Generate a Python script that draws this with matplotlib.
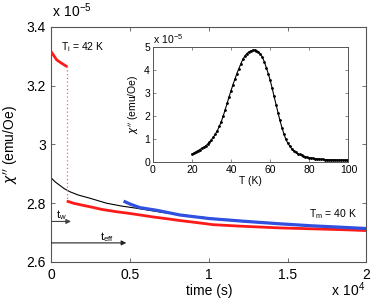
import matplotlib
matplotlib.use("Agg")
import matplotlib.pyplot as plt

plt.rcParams['font.family'] = ['Liberation Sans', 'DejaVu Sans']

# ---- main panel data (chi'' in units of 1e-5 emu/Oe, time in s) ----
red_init_t = [0, 115, 330, 600, 927]
red_init_chi = [3.314, 3.305, 3.288, 3.278, 3.267]

red_t = [1050, 1400, 1900, 2444, 3200, 4140, 5000, 5620, 6500, 7500, 8160, 8800,
         10270, 12000, 14500, 16500, 18500, 20000]
red_chi = [2.806, 2.800, 2.794, 2.788, 2.779, 2.771, 2.765, 2.760, 2.753, 2.746,
           2.741, 2.737, 2.727, 2.722, 2.716, 2.713, 2.710, 2.707]

black_t = [0, 250, 500, 800, 1175, 1700, 2444, 3500, 4500, 5400, 7000, 8800,
           12000, 16000, 20000]
black_chi = [2.885, 2.872, 2.862, 2.850, 2.839, 2.828, 2.817, 2.800, 2.790,
             2.783, 2.769, 2.757, 2.738, 2.724, 2.713]

blue_t = [4670, 5000, 5620, 6680, 8160, 10000, 12400, 14500, 16600, 18500, 20000]
blue_chi = [2.805, 2.797, 2.785, 2.776, 2.760, 2.748, 2.738, 2.730, 2.723, 2.718, 2.714]

tw_s = 990
teff_s = 4750

main_xticks = [0, 5000, 10000, 15000, 20000]
main_xticklabels = ['0', '0.5', '1', '1.5', '2']
main_yticks = [2.6, 2.8, 3.0, 3.2, 3.4]
main_yticklabels = ['2.6', '2.8', '3', '3.2', '3.4']

# ---- inset data ----
inset_T = list(range(20, 101))
inset_chi = [0.35, 0.40, 0.45, 0.50, 0.55, 0.60, 0.65, 0.71, 0.78, 0.87,
             0.98, 1.09, 1.22, 1.37, 1.55, 1.76, 2.00, 2.27, 2.55, 2.83,
             3.10, 3.36, 3.60, 3.84, 4.05, 4.26, 4.45, 4.59, 4.70, 4.77,
             4.82, 4.85, 4.85, 4.83, 4.78, 4.69, 4.55, 4.35, 4.10, 3.84,
             3.55, 3.21, 2.85, 2.50, 2.15, 1.81, 1.50, 1.23, 1.00, 0.83,
             0.70, 0.59, 0.50, 0.43, 0.38, 0.34, 0.30, 0.27, 0.24, 0.22,
             0.20, 0.185, 0.17, 0.16, 0.15, 0.14, 0.13, 0.125, 0.12, 0.115,
             0.11, 0.108, 0.106, 0.104, 0.102, 0.10, 0.10, 0.10, 0.10, 0.10,
             0.10]
inset_xticks = [0, 20, 40, 60, 80, 100]
inset_yticks = [0, 1, 2, 3, 4, 5]

spine_col = '#555555'

fig = plt.figure(figsize=(3.74, 3.07), dpi=100)
ax = fig.add_axes([0.1377, 0.1466, 0.842, 0.7655])

ax.plot(black_t, black_chi, color='black', lw=0.8, zorder=2)
ax.plot(red_init_t, red_init_chi, color='#ff1a1a', lw=2.0, zorder=3)
ax.plot([tw_s, tw_s], [red_init_chi[-1], red_chi[0]], color='#ff6060',
        lw=0.9, ls=(0, (1, 2)), zorder=2)
ax.plot(red_t, red_chi, color='#ff1a1a', lw=2.0, zorder=3)
ax.plot(blue_t, blue_chi, color='#3050e0', lw=2.3, zorder=4)

ax.set_xlim(0, 20000)
ax.set_ylim(2.6, 3.4)
ax.set_xticks(main_xticks)
ax.set_xticklabels(main_xticklabels)
ax.set_yticks(main_yticks)
ax.set_yticklabels(main_yticklabels)
ax.tick_params(direction='in', length=3, width=0.6, top=True, right=True,
               labelsize=10, color=spine_col, pad=4)
for s in ax.spines.values():
    s.set_color(spine_col)
    s.set_linewidth(0.8)

ax.set_xlabel('time (s)', fontsize=10, labelpad=2)
ax.set_ylabel("$\\chi''$ (emu/Oe)", fontsize=10)
ax.yaxis.set_label_coords(-0.1, 0.5)

fig.text(0.139, 0.935, '$\\mathregular{x\\ 10^{-5}}$', fontsize=10, ha='left', va='bottom')
fig.text(0.975, 0.025, '$\\mathregular{x\\ 10^{4}}$', fontsize=10, ha='right', va='bottom')

ax.text(600, 3.33, '$\\mathregular{T_i}$ = 42 K', fontsize=7.5, ha='left', va='center')
ax.text(19400, 2.763, '$\\mathregular{T_m}$ = 40 K', fontsize=7.5, ha='right', va='center')

ax.annotate('', xy=(tw_s * 1.25, 2.738), xytext=(0, 2.738),
            arrowprops=dict(arrowstyle='-|>', color='#444444', lw=0.8,
                            mutation_scale=7, shrinkA=0, shrinkB=0))
ax.text(300, 2.758, '$\\mathregular{t_w}$', fontsize=8, ha='left', va='center')
ax.annotate('', xy=(teff_s, 2.665), xytext=(0, 2.665),
            arrowprops=dict(arrowstyle='-|>', color='#222222', lw=0.8,
                            mutation_scale=7, shrinkA=0, shrinkB=0))
ax.text(3100, 2.685, '$\\mathregular{t_{eff}}$', fontsize=8, ha='left', va='center')

# ---- inset ----
ins = fig.add_axes([0.4083, 0.4713, 0.5235, 0.3765])
ins.plot(inset_T, inset_chi, color='black', lw=0.8, marker='.', markersize=2.0)
ins.set_xlim(0, 100)
ins.set_ylim(0, 5)
ins.set_xticks(inset_xticks)
ins.set_yticks(inset_yticks)
ins.tick_params(direction='in', length=2.5, width=0.5, top=True, right=True,
                labelsize=7.5, color=spine_col, pad=2)
for s in ins.spines.values():
    s.set_color(spine_col)
    s.set_linewidth(0.7)
ins.set_xlabel('T (K)', fontsize=7.5, labelpad=1)
ins.set_ylabel("$\\chi''$ (emu/Oe)", fontsize=7.5, labelpad=2)
ins.text(0.0, 1.01, '$\\mathregular{x\\ 10^{-5}}$', transform=ins.transAxes,
         fontsize=7.5, ha='left', va='bottom')

fig.savefig('out.png', dpi=100)
